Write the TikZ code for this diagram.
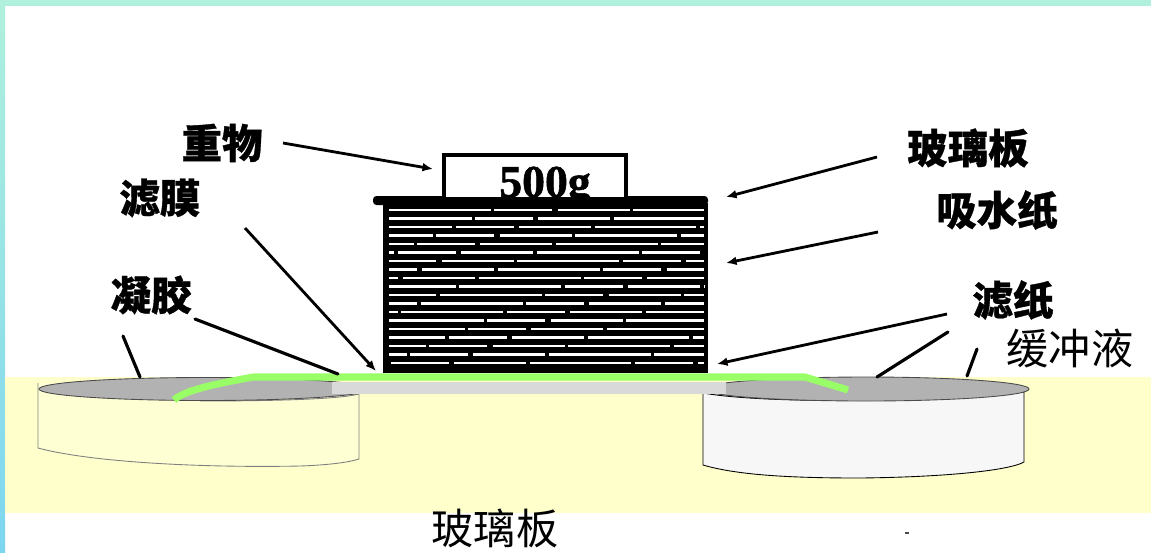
\documentclass[tikz,border=0pt]{standalone}
\usepackage{fontspec}
\newfontfamily\cjk{Noto Sans CJK SC}
\newfontfamily\weightfont{Liberation Serif}
\definecolor{framecol}{HTML}{B0F0DC}
\definecolor{framelow}{HTML}{7DD6F0}
\definecolor{bandcol}{HTML}{FFFFCC}
\definecolor{gelcol}{HTML}{FFFFD4}
\definecolor{rimcol}{HTML}{B2B2B2}
\definecolor{slabcol}{HTML}{D9D9D9}
\definecolor{membranecol}{HTML}{99FF66}
\definecolor{buffercol}{HTML}{F7F7F7}
\usetikzlibrary{arrows.meta}

\begin{document}
\begin{tikzpicture}[x=0.02cm, y=-0.02cm,
  ptr/.style={-{Latex[length=6pt,width=5pt]}, line width=1.6pt},
  lead/.style={line width=1.8pt, line cap=round},
  boldlbl/.style={font=\cjk\bfseries\addfontfeatures{FakeBold=0.8}\fontsize{23}{25}\selectfont, inner sep=0pt},
  thinlbl/.style={font=\cjk\fontsize{24}{26}\selectfont, inner sep=0pt}]
\useasboundingbox (0,0) rectangle (1151,552);

% === Frame and bench ===
\fill[white] (0,0) rectangle (1151,552);
\fill[framecol] (0,0) rectangle (1151,6);
\shade[top color=framecol, bottom color=framelow] (0,0) rectangle (5,552);
\fill[bandcol] (5,377) rectangle (1151,513);

% === Gel tray (left) ===
\fill[gelcol] (38,383) -- (38,448) .. controls (90,462) and (200,468) .. (300,466)
  .. controls (330,465) and (350,462) .. (359,459) -- (359,394) -- cycle;
\draw[gray, line width=0.5pt] (38,383) -- (38,448) .. controls (90,462) and (200,468) .. (300,466)
  .. controls (330,465) and (350,462) .. (359,459) -- (359,394);
\draw[gray, line width=0.5pt] (200,401) .. controls (280,401) and (340,399) .. (359,394);
\filldraw[fill=rimcol, draw=black!70, line width=0.5pt] (205,389) ellipse [x radius=166, y radius=11.5];

% === Buffer tray (right) ===
\fill[buffercol] (703,392) -- (703,465) .. controls (740,476) and (800,478) .. (860,478)
  .. controls (950,477) and (1010,470) .. (1024,462) -- (1024,390) -- cycle;
\draw[black, line width=0.5pt] (703,392) -- (703,465) .. controls (740,476) and (800,478) .. (860,478)
  .. controls (950,477) and (1010,470) .. (1024,462) -- (1024,390);
\draw[black, line width=0.5pt] (703,393) .. controls (760,403) and (900,403) .. (1024,392);
\filldraw[fill=rimcol, draw=black!70, line width=0.5pt] (866,389) ellipse [x radius=163, y radius=12];

% === Glass plate bridging the trays ===
\fill[slabcol] (332,382) rectangle (726,394);

% === Paper stack with weight ===
\fill[black] (383,203) rectangle (708,373);
\fill[black, rounded corners=2pt] (373,196) rectangle (708,205);
\foreach \k in {0,...,18} {
  \pgfmathsetmacro{\yy}{210+8.5*\k}
  \draw[white, line width=1.3pt, dash pattern=on 58pt off 2pt on 33pt off 3pt on 41pt off 2pt,
    dash phase=\k*11pt] (389,\yy) -- (704,\yy);
}
\filldraw[fill=white, draw=black, line width=2.2pt] (444,155) rectangle (626,199);
\node[font=\weightfont\bfseries\addfontfeatures{FakeBold=1.2}\fontsize{26}{28}\selectfont,
  anchor=base, inner sep=0pt] (weight) at (545,197) {500g};

% === Membrane ===
\draw[membranecol, line width=4pt, line join=round]
  (174,400) .. controls (185,390) and (215,384) .. (253,377) -- (805,377) -- (848,390);

% === Labels ===
\node[boldlbl] (lbl-weight) at (222,143) {重物};
\node[boldlbl] (lbl-membrane) at (160,198) {滤膜};
\node[boldlbl] (lbl-gel) at (151,295) {凝胶};
\node[boldlbl] (lbl-glass) at (968,148) {玻璃板};
\node[boldlbl] (lbl-towel) at (997,210) {吸水纸};
\node[boldlbl] (lbl-filter) at (1013,300) {滤纸};
\node[thinlbl] (lbl-buffer) at (1070,348) {缓冲液};
\node[thinlbl] (lbl-plate) at (495,528) {玻璃板};

% === Pointers ===
\coordinate (weight-a) at (283,143);   \coordinate (weight-b) at (433,169);
\coordinate (membrane-a) at (245,228); \coordinate (membrane-b) at (376,371);
\coordinate (gel-a) at (195,319);      \coordinate (gel-b) at (338,374);
\coordinate (rim-a) at (123,336);      \coordinate (rim-b) at (140,377);
\coordinate (glass-a) at (877,157);    \coordinate (glass-b) at (726,197);
\coordinate (towel-a) at (878,232);    \coordinate (towel-b) at (726,263);
\coordinate (filter-a) at (947,314);   \coordinate (filter-b) at (717,364);
\coordinate (paper-a) at (948,332);    \coordinate (paper-b) at (877,377);
\coordinate (buffer-a) at (977,349);   \coordinate (buffer-b) at (967,376);

\draw[ptr] (weight-a) -- (weight-b);
\draw[ptr] (membrane-a) -- (membrane-b);
\draw[lead] (gel-a) -- (gel-b);
\draw[lead] (rim-a) -- (rim-b);
\draw[ptr] (glass-a) -- (glass-b);
\draw[ptr] (towel-a) -- (towel-b);
\draw[ptr] (filter-a) -- (filter-b);
\draw[lead] (paper-a) -- (paper-b);
\draw[lead] (buffer-a) -- (buffer-b);

\draw[line width=0.6pt, black!70] (905,533) -- (909,533);
\end{tikzpicture}
\end{document}
